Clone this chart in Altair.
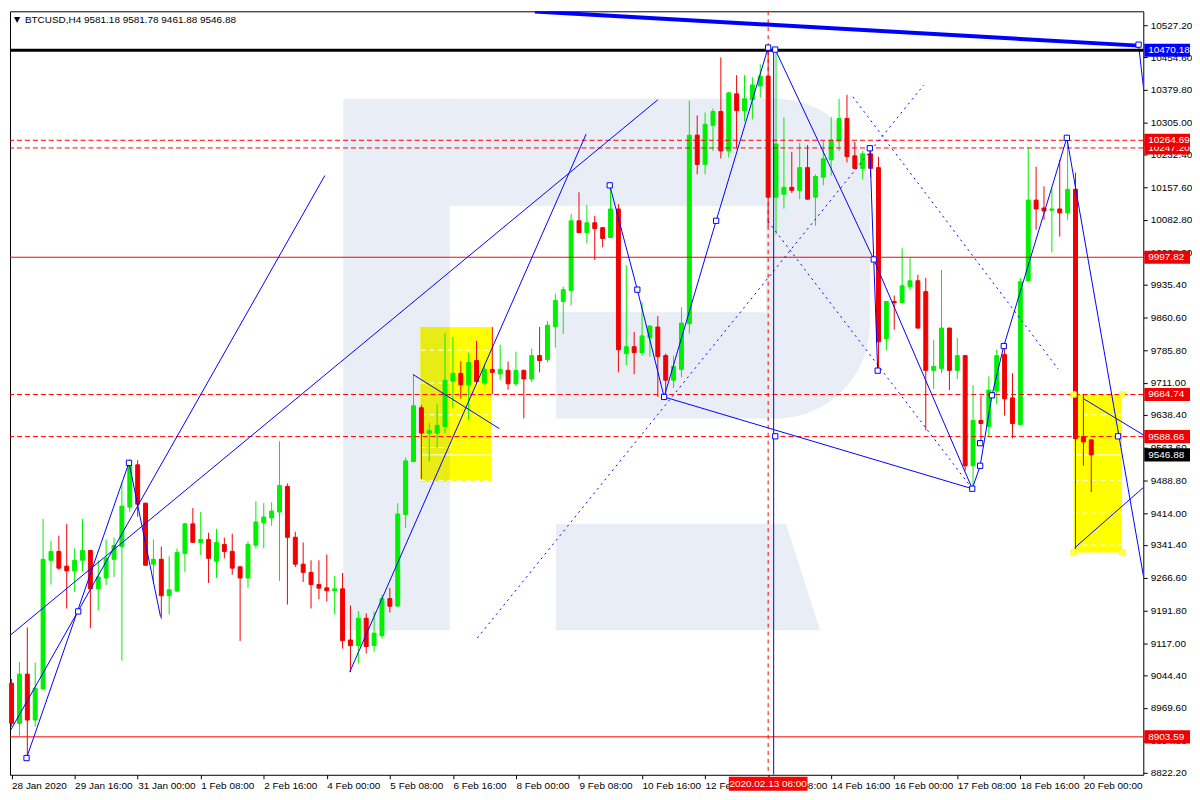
import json
import altair as alt
import pandas as pd

W, H = 1140, 768
X_DOM = [-0.2, 143.6]
Y_DOM = [8817.0, 10559.0]
FONT = "Liberation Sans"
GREEN = "#00f000"
RED = "#f00000"
BLUE = "#0000ff"
WM = "#e9edf5"

# ---------------- candles (H4 bars, index 0 = 28 Jan 2020 08:00) ----------------
OPEN = [9025.8, 8934.4, 9046.7, 8942.0, 9013.0, 9306.4, 9326.6, 9293.0, 9282.4, 9306.4,
        9328.9, 9241.3, 9266.0, 9308.7, 9337.9, 9427.7, 9524.2, 9436.7, 9297.5, 9308.7,
        9225.6, 9236.2, 9322.2, 9389.5, 9346.9, 9353.6, 9304.2, 9342.4, 9326.6, 9291.4,
        9266.0, 9340.8, 9391.8, 9403.0, 9416.5, 9474.8, 9359.0, 9297.5, 9278.8, 9251.0,
        9243.6, 9236.8, 9241.3, 9124.6, 9111.8, 9174.0, 9111.8, 9134.2, 9218.9, 9202.0,
        9411.0, 9531.6, 9654.4, 9596.7, 9596.7, 9611.8, 9715.1, 9733.0, 9706.8, 9762.2,
        9710.6, 9742.0, 9731.5, 9739.8, 9709.0, 9739.8, 9720.2, 9773.4, 9764.5, 9839.2,
        9896.9, 9921.6, 10081.0, 10054.1, 10076.5, 10065.3, 10042.9, 10108.0, 9777.9, 9793.7,
        9780.2, 9813.9, 9838.6, 9773.4, 9717.3, 9742.0, 9846.0, 10276.4, 10209.7, 10298.8,
        10330.3, 10240.4, 10370.7, 10332.5, 10357.2, 10388.6, 10411.1, 10134.9, 10141.7, 10157.4,
        10150.6, 10202.3, 10134.9, 10180.5, 10220.2, 10262.9, 10314.5, 10229.2, 10200.7, 10233.7,
        10202.3, 9812.3, 9896.9, 9894.5, 9930.6, 9944.1, 9919.4, 9739.8, 9744.3, 9836.3,
        9739.8, 9773.4, 9522.0, 9625.3, 9611.8, 9692.6, 9775.7, 9676.9, 9616.3, 9944.1,
        10128.2, 10110.2, 10105.1, 10108.0, 10099.0, 10152.9, 9588.7, 9581.18]
HIGH = [9035.4, 9074.5, 9153.1, 9072.9, 9400.7, 9351.3, 9362.6, 9388.8, 9333.4, 9400.7,
        9330.0, 9306.4, 9353.6, 9358.1, 9481.6, 9537.0, 9534.8, 9438.0, 9353.6, 9337.9,
        9315.4, 9333.4, 9392.0, 9425.4, 9416.5, 9369.3, 9378.3, 9358.1, 9367.1, 9293.6,
        9349.1, 9441.2, 9436.7, 9438.9, 9578.1, 9481.6, 9371.6, 9346.9, 9306.4, 9306.4,
        9319.9, 9270.5, 9277.3, 9203.2, 9190.4, 9185.2, 9189.7, 9227.9, 9243.6, 9436.7,
        9540.6, 9731.5, 9660.5, 9619.2, 9662.8, 9825.1, 9816.1, 9760.6, 9780.2, 9807.1,
        9753.2, 9838.6, 9798.1, 9760.0, 9782.4, 9741.0, 9789.2, 9838.6, 9852.0, 9914.9,
        9930.6, 10096.8, 10146.1, 10117.0, 10092.3, 10066.0, 10161.9, 10119.2, 9980.0, 9827.3,
        9894.7, 9843.1, 9863.3, 9778.0, 9773.4, 9883.5, 10355.0, 10321.3, 10328.0, 10337.0,
        10453.7, 10375.2, 10413.3, 10413.3, 10408.8, 10438.0, 10470.18, 10466.0, 10316.8, 10238.2,
        10258.4, 10253.9, 10186.6, 10262.9, 10316.8, 10359.4, 10368.4, 10260.7, 10240.4, 10247.2,
        10227.0, 9897.5, 9910.4, 10018.2, 9995.7, 9957.6, 9950.8, 9809.4, 9968.8, 9837.0,
        9813.9, 9774.0, 9706.1, 9681.4, 9726.3, 9786.9, 9795.9, 9733.0, 9950.8, 10247.2,
        10204.5, 10159.6, 10155.1, 10220.2, 10271.9, 10191.0, 9684.3, 9581.78]
LOW = [8927.0, 8906.1, 8855.8, 8927.0, 9010.0, 9251.0, 9284.7, 9196.4, 9233.9, 9281.1,
       9151.5, 9191.9, 9250.3, 9268.3, 9077.4, 9416.5, 9405.9, 9293.6, 9252.6, 9172.4,
       9183.0, 9233.9, 9279.5, 9346.0, 9317.7, 9254.8, 9266.0, 9310.9, 9273.5, 9122.3,
       9243.6, 9333.4, 9333.4, 9385.0, 9259.3, 9205.4, 9290.7, 9257.0, 9196.4, 9217.3,
       9212.1, 9183.0, 9105.0, 9051.2, 9070.7, 9093.8, 9098.3, 9127.5, 9187.4, 9200.0,
       9379.9, 9531.0, 9492.1, 9531.6, 9564.6, 9596.7, 9652.9, 9675.3, 9625.9, 9711.3,
       9706.8, 9685.9, 9717.3, 9695.5, 9703.8, 9630.4, 9712.8, 9735.3, 9757.7, 9791.4,
       9822.8, 9887.9, 10053.0, 10029.4, 9991.2, 10020.4, 10042.0, 9735.3, 9751.0, 9730.8,
       9773.4, 9771.2, 9679.1, 9679.1, 9699.4, 9724.0, 9823.5, 10187.2, 10187.2, 10240.4,
       10223.2, 10225.4, 10245.6, 10307.8, 10312.3, 10361.7, 10067.6, 10049.6, 10108.7, 10144.6,
       10130.4, 10129.0, 10069.8, 10161.9, 10184.3, 10240.4, 10214.2, 10198.5, 10175.3, 10180.5,
       9739.1, 9785.3, 9832.5, 9893.0, 9922.3, 9835.0, 9602.8, 9697.1, 9733.0, 9694.9,
       9719.6, 9510.8, 9465.9, 9573.6, 9589.3, 9663.4, 9636.5, 9584.8, 9615.0, 9943.0,
       10060.8, 10083.3, 10009.2, 10045.1, 10083.3, 9331.1, 9522.0, 9461.88]
CLOSE = [8934.4, 9046.7, 8942.0, 9014.6, 9308.7, 9326.6, 9288.5, 9282.4, 9306.4, 9328.9,
         9241.3, 9268.3, 9310.9, 9340.1, 9429.9, 9524.9, 9434.4, 9295.2, 9308.7, 9225.6,
         9239.1, 9324.4, 9389.5, 9347.5, 9353.6, 9310.9, 9346.9, 9326.6, 9288.5, 9266.0,
         9342.4, 9394.0, 9405.2, 9418.7, 9477.1, 9358.8, 9297.5, 9278.8, 9251.0, 9242.9,
         9236.8, 9241.3, 9123.0, 9111.8, 9174.0, 9109.5, 9140.3, 9218.9, 9201.6, 9412.0,
         9533.2, 9658.9, 9596.7, 9602.1, 9614.0, 9717.3, 9733.0, 9706.8, 9757.7, 9714.4,
         9742.0, 9735.3, 9742.0, 9709.0, 9739.8, 9720.2, 9773.4, 9762.2, 9843.0, 9899.2,
         9923.9, 10081.0, 10054.1, 10076.5, 10063.1, 10040.6, 10108.0, 9786.9, 9793.7, 9780.2,
         9818.3, 9840.8, 9771.2, 9717.3, 9748.7, 9847.5, 10276.4, 10209.7, 10301.1, 10330.3,
         10240.4, 10372.9, 10332.5, 10359.4, 10390.9, 10411.1, 10134.9, 10256.2, 10157.4, 10150.6,
         10202.3, 10130.4, 10182.1, 10222.5, 10265.1, 10314.5, 10227.6, 10200.7, 10233.7, 10200.7,
         9804.9, 9896.9, 9894.0, 9932.9, 9944.1, 9836.3, 9739.8, 9748.7, 9836.3, 9739.8,
         9773.4, 9522.0, 9625.3, 9618.5, 9694.9, 9773.4, 9674.7, 9618.5, 9941.8, 10128.2,
         10108.0, 10103.5, 10108.0, 10099.0, 10152.9, 9584.0, 9576.5, 9546.88]

X_TICK_LABELS = ["28 Jan 2020", "29 Jan 16:00", "31 Jan 00:00", "1 Feb 08:00", "2 Feb 16:00",
                 "4 Feb 00:00", "5 Feb 08:00", "6 Feb 16:00", "8 Feb 00:00", "9 Feb 08:00",
                 "10 Feb 16:00", "12 Feb 00:00", "13 Feb 08:00", "14 Feb 16:00", "16 Feb 00:00",
                 "17 Feb 08:00", "18 Feb 16:00", "20 Feb 00:00"]
Y_TICKS = [10527.20, 10454.60, 10379.80, 10305.00, 10232.40, 10157.60, 10082.80, 10008.00,
           9935.40, 9860.60, 9785.80, 9711.00, 9638.40, 9563.60, 9488.80, 9414.00, 9341.40,
           9266.60, 9191.80, 9117.00, 9044.40, 8969.60, 8894.80, 8822.20]

# ---------------- levels ----------------
RED_DASH_LEVELS = [10264.69, 10247.20, 9684.74, 9588.66]
RED_SOLID_LEVELS = [9997.82, 8903.59]
BLACK_LEVEL = [10470.18]
BID = 9546.88
TAG_VALUES = [10470.18, 10247.20, 10264.69, 9997.82, 9684.74, 9588.66, 9546.88, 8903.59]
TAG_COLORS = [BLUE, RED, RED, RED, RED, RED, "#000000", RED]
CROSS_BAR = 96
CROSS_LABEL = "2020.02.13 08:00"

# ---------------- drawn objects (bar index, price) ----------------
SOLID_SEGS = [
    [(-0.125, 9136.1), (82.0, 10357.2)],
    [(-0.09, 8919.6), (39.75, 10184.3)],
    [(1.9, 8855.2), (14.9, 9529.4), (18.9, 9177.8)],
    [(42.9, 9051.2), (72.9, 10278.6)],
    [(50.96, 9730.1), (61.9, 9606.7)],
    [(75.9, 10161.9), (79.4, 9923.9), (82.8, 9679.1), (89.4, 10081.0), (96.0, 10476.2)],
    [(96.9, 10471.7), (109.4, 9992.8), (121.9, 9469.7), (122.9, 9522.0), (124.4, 9682.9),
     (125.9, 9795.2), (133.9, 10270.3), (143.9, 9241.3)],
    [(82.8, 9679.1), (121.9, 9469.7)],
    [(108.9, 10246.5), (109.9, 9739.1)],
    [(136.0, 9675.3), (143.9, 9589.3)],
    [(134.9, 9334.9), (143.9, 9477.1)],
    [(143.0, 10482.9), (143.9, 10341.5)],
    [(96.7, 10465.0), (96.7, 8817.0)],
]
DOTTED_SEGS = [
    [(59.1, 9129.1), (115.75, 10390.9)],
    [(96.0, 10079.5), (121.9, 9469.7)],
    [(106.75, 10363.9), (132.8, 9742.7)],
]
THICK_SEGS = [[(66.4, 10558.6), (143.0, 10480.7)]]
MARK_X = [1.9, 8.46, 14.9, 75.9, 79.4, 82.8, 89.4, 96.0, 96.9, 108.9, 109.4, 109.9,
          121.9, 122.9, 122.9, 124.4, 125.9, 133.9, 140.4, 143.0, 96.9]
MARK_P = [8855.2, 9189.7, 9528.7, 10161.9, 9923.9, 9679.1, 10081.0, 10476.2, 10471.7,
          10246.5, 9992.8, 9739.1, 9469.7, 9522.0, 9573.6, 9682.9, 9795.2, 10270.3,
          9589.3, 10482.9, 9589.3]

BOX_X1 = [51.9, 134.75]
BOX_X2 = [60.9, 140.9]
BOX_LO = [9486.0, 9324.4]
BOX_HI = [9838.6, 9684.74]

# watermark logo pieces
WM_BAR = dict(x=42.1, x2=55.6, y=9147.0, y2=10359.4)
WM_BOWL = dict(x=55.0, x2=108.9, y=9629.7, y2=10359.4)
WM_HOLES = [dict(x=55.6, x2=95.75, y=9872.2, y2=10114.7), dict(x=55.6, x2=69.1, y=9629.7, y2=9872.2)]
WM_LEG_P = [9389.5, 9147.0]
WM_LEG_X1 = [69.1, 69.1]
WM_LEG_X2 = [98.25, 102.6]

HEADER = "BTCUSD,H4  9581.18 9581.78 9461.88 9546.88"

# ---------------- helpers ----------------
XS = alt.Scale(domain=X_DOM, nice=False, zero=False)
YS = alt.Scale(domain=Y_DOM, nice=False, zero=False)

X_AXIS = alt.Axis(values=[8 * k for k in range(len(X_TICK_LABELS))],
                  labelExpr=f"{json.dumps(X_TICK_LABELS)}[round(datum.value / 8)]",
                  labelAlign="left", labelBaseline="top", labelPadding=2, labelFont=FONT,
                  labelFontSize=10, labelColor="black", tickSize=4, tickColor="black",
                  domain=False, grid=False, title=None, labelOverlap=False, labelFlush=False)
Y_AXIS = alt.Axis(orient="right", values=Y_TICKS, format=".2f", labelFont=FONT, labelFontSize=10,
                  labelColor="black", tickSize=4, tickColor="black", domain=False, grid=False,
                  title=None, labelOverlap=False, labelFlush=False, labelPadding=3)


def ex(f="x"):
    return alt.X(f"{f}:Q", scale=XS, axis=X_AXIS)


def ey(f="y"):
    return alt.Y(f"{f}:Q", scale=YS, axis=Y_AXIS)


def seg_df(segs):
    rows = []
    for k, seg in enumerate(segs):
        for j, (xi, p) in enumerate(seg):
            rows.append({"id": k, "seq": j, "x": xi, "y": p})
    return pd.DataFrame(rows)


cdf = pd.DataFrame({"i": list(range(len(OPEN))), "o": OPEN, "h": HIGH, "l": LOW, "c": CLOSE})
cdf["dir"] = ["up" if c >= o else "down" for o, c in zip(OPEN, CLOSE)]
cscale = alt.Scale(domain=["up", "down"], range=[GREEN, RED])

layers = []

# watermark
layers.append(alt.Chart(pd.DataFrame([WM_BAR])).mark_rect(color=WM).encode(
    x=ex(), x2="x2:Q", y=ey(), y2="y2:Q"))
layers.append(alt.Chart(pd.DataFrame([WM_BOWL])).mark_rect(
    color=WM, cornerRadiusTopRight=95, cornerRadiusBottomRight=95).encode(
    x=ex(), x2="x2:Q", y=ey(), y2="y2:Q"))
layers.append(alt.Chart(pd.DataFrame(WM_HOLES)).mark_rect(color="white").encode(
    x=ex(), x2="x2:Q", y=ey(), y2="y2:Q"))
layers.append(alt.Chart(pd.DataFrame({"y": WM_LEG_P, "x": WM_LEG_X1, "x2": WM_LEG_X2})).mark_area(
    orient="horizontal", color=WM).encode(y=ey(), x=ex(), x2="x2:Q"))

# yellow boxes
box_df = pd.DataFrame({"x": BOX_X1, "x2": BOX_X2, "y": BOX_LO, "y2": BOX_HI})
layers.append(alt.Chart(box_df).mark_rect(color="#ffff00").encode(x=ex(), x2="x2:Q", y=ey(), y2="y2:Q"))
layers.append(alt.Chart(pd.DataFrame({"x": [BOX_X1[0]], "x2": [WM_BAR["x2"]], "y": [BOX_LO[0]],
                                      "y2": [BOX_HI[0]]})).mark_rect(color="#e8eb14").encode(
    x=ex(), x2="x2:Q", y=ey(), y2="y2:Q"))
grid_rows = []
for x1, x2, lo, hi in zip(BOX_X1, BOX_X2, BOX_LO, BOX_HI):
    for t in Y_TICKS:
        if lo < t < hi:
            grid_rows.append({"x": x1, "x2": x2, "y": t})
layers.append(alt.Chart(pd.DataFrame(grid_rows)).mark_rule(color="white", strokeDash=[5, 4],
                                                           strokeWidth=1).encode(x=ex(), x2="x2:Q", y=ey()))
layers.append(alt.Chart(pd.DataFrame({"x": BOX_X1, "x2": BOX_X2, "y": [BID, BID]})).mark_rule(
    color="white", strokeWidth=1).encode(x=ex(), x2="x2:Q", y=ey()))

# candles
layers.append(alt.Chart(cdf).mark_rule(strokeWidth=1).encode(
    x=ex("i"), y=ey("h"), y2="l:Q",
    color=alt.Color("dir:N", scale=cscale, legend=None)))
layers.append(alt.Chart(cdf).transform_calculate(xa="datum.i - 0.25", xb="datum.i + 0.25").mark_rect(
    strokeWidth=1).encode(
    x=ex("xa"), x2="xb:Q", y=ey("o"), y2="c:Q",
    color=alt.Color("dir:N", scale=cscale, legend=None),
    stroke=alt.Stroke("dir:N", scale=cscale, legend=None)))

# horizontal levels
layers.append(alt.Chart(pd.DataFrame({"y": RED_DASH_LEVELS})).mark_rule(
    color="#ff0000", strokeDash=[5, 3], strokeWidth=1).encode(y=ey()))
layers.append(alt.Chart(pd.DataFrame({"y": RED_SOLID_LEVELS})).mark_rule(
    color="#ff0000", strokeWidth=1).encode(y=ey()))
layers.append(alt.Chart(pd.DataFrame({"x": [CROSS_BAR]})).mark_rule(
    color="#ff0000", strokeDash=[4, 4], strokeWidth=1).encode(x=ex()))

# blue drawn lines
layers.append(alt.Chart(seg_df(SOLID_SEGS)).mark_line(color=BLUE, strokeWidth=1, clip=True).encode(
    x=ex(), y=ey(), detail="id:N", order="seq:Q"))
layers.append(alt.Chart(seg_df(DOTTED_SEGS)).mark_line(color=BLUE, strokeWidth=1, strokeDash=[2, 4],
                                                       clip=True).encode(
    x=ex(), y=ey(), detail="id:N", order="seq:Q"))
layers.append(alt.Chart(seg_df(THICK_SEGS)).mark_line(color=BLUE, strokeWidth=4, clip=True).encode(
    x=ex(), y=ey(), detail="id:N", order="seq:Q"))
layers.append(alt.Chart(pd.DataFrame({"y": BLACK_LEVEL})).mark_rule(
    color="#000000", strokeWidth=3).encode(y=ey()))
layers.append(alt.Chart(pd.DataFrame({"x": MARK_X, "y": MARK_P})).mark_point(
    shape="square", size=28, filled=True, fill="white", stroke=BLUE, strokeWidth=1, opacity=1).encode(
    x=ex(), y=ey()))
handles = pd.DataFrame({"x": [BOX_X1[1], BOX_X2[1], BOX_X1[1], BOX_X2[1]],
                        "y": [BOX_HI[1], BOX_HI[1], BOX_LO[1], BOX_LO[1]]})
layers.append(alt.Chart(handles).mark_point(shape="square", size=28, filled=True, fill="#ffff66",
                                            stroke="#ffff00", strokeWidth=1, opacity=1).encode(
    x=ex(), y=ey()))

# header
layers.append(alt.Chart(pd.DataFrame({"t": ["\u25bc"]})).mark_text(
    font="DejaVu Sans", fontSize=8, align="left", baseline="middle", color="black").encode(
    x=alt.value(4), y=alt.value(9), text="t:N"))
layers.append(alt.Chart(pd.DataFrame({"t": [HEADER]})).mark_text(
    font=FONT, fontSize=10, align="left", baseline="middle", color="black").encode(
    x=alt.value(15), y=alt.value(9), text="t:N"))

# price tags on right axis (drawn one by one so later tags cover earlier ones)
for v, col in zip(TAG_VALUES, TAG_COLORS):
    tdf = pd.DataFrame({"y": [v], "t": [f"{v:.2f}"]})
    layers.append(alt.Chart(tdf).transform_calculate(lo="datum.y - 15", hi="datum.y + 15").mark_rect(
        color=col).encode(x=alt.value(W + 1), x2=alt.value(W + 47), y=ey("lo"), y2="hi:Q"))
    layers.append(alt.Chart(tdf).mark_text(font=FONT, fontSize=10, align="left", baseline="middle",
                                           color="white").encode(
        x=alt.value(W + 5), y=ey(), text="t:N"))

# crosshair time tag on x axis
ctag = pd.DataFrame({"x": [CROSS_BAR - 5.0], "x2": [CROSS_BAR + 5.0], "xc": [CROSS_BAR], "t": [CROSS_LABEL]})
layers.append(alt.Chart(ctag).mark_rect(color="#ff0000").encode(
    x=ex(), x2="x2:Q", y=alt.value(H + 2), y2=alt.value(H + 16)))
layers.append(alt.Chart(ctag).mark_text(font=FONT, fontSize=10, align="center", baseline="middle",
                                        color="white").encode(
    x=ex("xc"), y=alt.value(H + 9), text="t:N"))

chart = alt.layer(*layers).properties(
    width=W, height=H, padding=0, background="white"
).configure_view(stroke="black", strokeWidth=1)

chart.save("out.html", embed_options={"renderer": "svg", "actions": False})
